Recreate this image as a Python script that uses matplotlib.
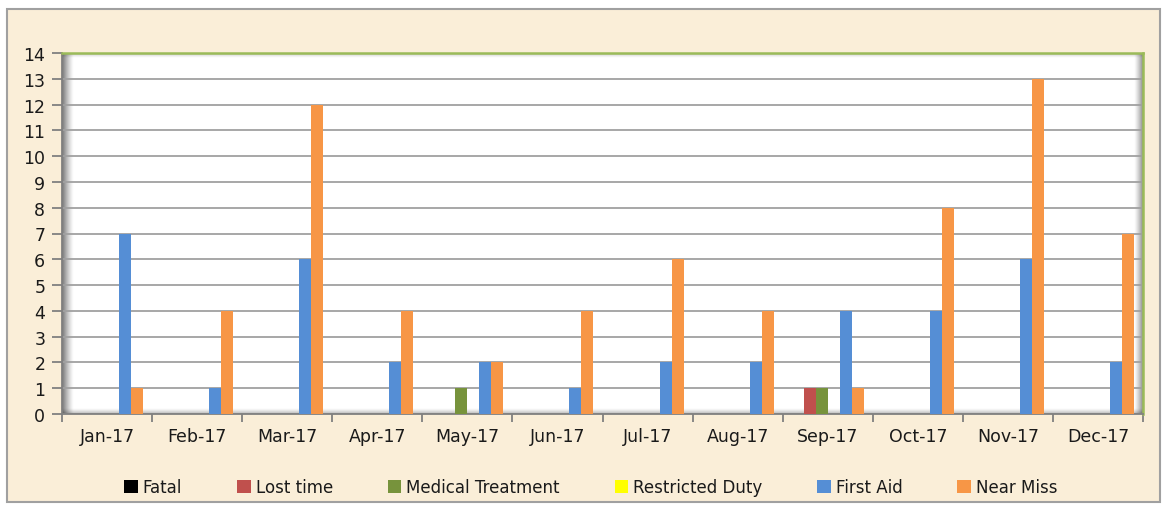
import matplotlib
matplotlib.use("Agg")
import matplotlib.pyplot as plt
import numpy as np
from matplotlib.patches import Rectangle

months = ["Jan-17", "Feb-17", "Mar-17", "Apr-17", "May-17", "Jun-17",
          "Jul-17", "Aug-17", "Sep-17", "Oct-17", "Nov-17", "Dec-17"]
series_names = ["Fatal", "Lost time", "Medical Treatment", "Restricted Duty", "First Aid", "Near Miss"]
fatal = [0, 0, 0, 0, 0, 0, 0, 0, 0, 0, 0, 0]
lost_time = [0, 0, 0, 0, 0, 0, 0, 0, 1, 0, 0, 0]
medical = [0, 0, 0, 0, 1, 0, 0, 0, 1, 0, 0, 0]
restricted = [0, 0, 0, 0, 0, 0, 0, 0, 0, 0, 0, 0]
first_aid = [7, 1, 6, 2, 2, 1, 2, 2, 4, 4, 6, 2]
near_miss = [1, 4, 12, 4, 2, 4, 6, 4, 1, 8, 13, 7]
yticks = list(range(0, 15))

colors = ["#000000", "#C0504D", "#77933C", "#FFFF00", "#558ED5", "#F79646"]
data = [fatal, lost_time, medical, restricted, first_aid, near_miss]

bg = "#FAEED8"
W, H = 1163, 506
fig = plt.figure(figsize=(W/100, H/100), dpi=100)
fig.patch.set_facecolor("white")
# outer chart area
bgax = fig.add_axes([0, 0, 1, 1], zorder=0)
bgax.set_axis_off()
bgax.set_xlim(0, W)
bgax.set_ylim(H, 0)
bgax.add_patch(Rectangle((7, 10), 1153, 493, facecolor=bg, edgecolor="#A0A0A0", linewidth=1.5))

L, R, T, B = 62, 1143, 54, 415
aw, ah = R - L, B - T
ax = fig.add_axes([L/W, 1-B/H, aw/W, ah/H], zorder=2)
ax.set_facecolor("white")

n = len(months)
x = np.arange(n)
bw = 0.8 / 6
offsets = (np.arange(6) - 2.5) * bw
for i, (name, vals, c) in enumerate(zip(series_names, data, colors)):
    ax.bar(x + offsets[i], vals, width=bw, color=c, label=name, zorder=3)

ax.set_xlim(-0.5, n - 0.5)
ax.set_ylim(0, 14)
ax.set_yticks(yticks)
ax.yaxis.grid(True, color="#A0A0A0", linewidth=1.3)
ax.set_axisbelow(True)

# inner shadows (gradients)
def shadow(extent, direction, strength, npx=64):
    g = np.linspace(strength, 0, npx) ** 1.3 / (strength ** 0.3)
    rgba = np.zeros((1, npx, 4)) if direction in ("lr", "rl") else np.zeros((npx, 1, 4))
    if direction == "lr":
        rgba[0, :, 3] = g
    elif direction == "rl":
        rgba[0, :, 3] = g[::-1]
    elif direction == "tb":
        rgba[:, 0, 3] = g
    else:
        rgba[:, 0, 3] = g[::-1]
    ax.imshow(rgba, extent=extent, transform=ax.transAxes, aspect="auto",
              zorder=0.2, interpolation="bilinear")

shadow([0, 12/aw, 0, 1], "lr", 0.55)
shadow([1 - 9/aw, 1, 0, 1], "rl", 0.45)
shadow([0, 1, 1 - 5/ah, 1], "tb", 0.25)
shadow([0, 1, 0, 6/ah], "bt", 0.3)
ax.set_xlim(-0.5, n - 0.5)
ax.set_ylim(0, 14)

tick_font = dict(fontsize=12.5, color="#1A1A1A")
ax.set_xticks(x)
ax.set_xticklabels(months, **tick_font)
ax.set_yticklabels([str(v) for v in yticks], **tick_font)
ax.set_xticks(np.arange(-0.5, n, 1), minor=True)
ax.tick_params(axis="x", which="major", length=0, pad=9)
ax.tick_params(axis="x", which="minor", length=5.5, color="#808080", width=1.3)
ax.tick_params(axis="y", length=7, color="#808080", width=1.3, pad=5)

for s in ["top", "right"]:
    ax.spines[s].set_color("#9BBB59")
    ax.spines[s].set_linewidth(1.8)
for s in ["left", "bottom"]:
    ax.spines[s].set_color("#808080")
    ax.spines[s].set_linewidth(1.3)

handles, labels = ax.get_legend_handles_labels()
leg = fig.legend(handles, labels, loc="center", bbox_to_anchor=(0.508, 1-488/H), ncol=6, frameon=False,
                 fontsize=12, handlelength=0.8, handleheight=0.8, handletextpad=0.3,
                 columnspacing=3.3)
for t in leg.get_texts():
    t.set_color("#1A1A1A")
leg.set_zorder(3)

fig.savefig("out.png", dpi=100, facecolor=fig.get_facecolor())
